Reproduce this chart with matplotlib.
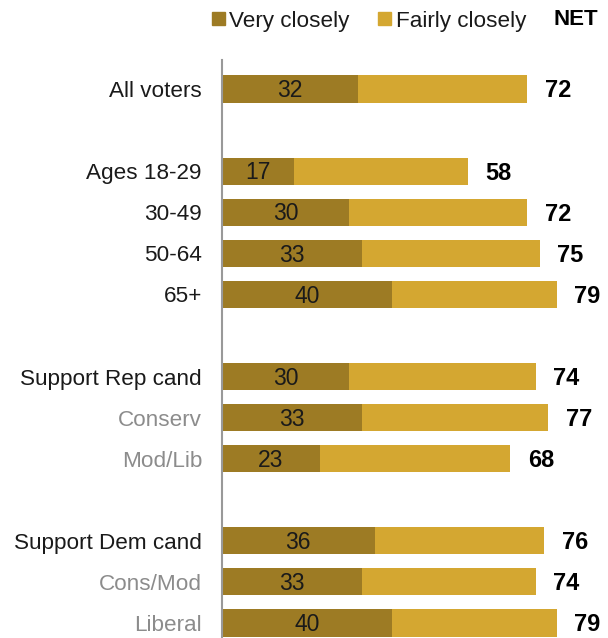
import matplotlib
matplotlib.use("Agg")
import matplotlib.pyplot as plt
from matplotlib.patches import Rectangle
from matplotlib.transforms import offset_copy

categories = ["All voters", "Ages 18-29", "30-49", "50-64", "65+",
              "Support Rep cand", "Conserv", "Mod/Lib",
              "Support Dem cand", "Cons/Mod", "Liberal"]
very_closely = [32, 17, 30, 33, 40, 30, 33, 23, 36, 33, 40]
net = [72, 58, 72, 75, 79, 74, 77, 68, 76, 74, 79]
fairly_closely = [n - v for n, v in zip(net, very_closely)]
sub_group = [False, False, False, False, False, False, True, True, False, True, True]
row_pos = [0, 2, 3, 4, 5, 7, 8, 9, 11, 12, 13]

DARK = "#9D7B24"
LIGHT = "#D4A731"
FONT = "Liberation Sans"
plt.rcParams['font.family'] = [FONT, 'DejaVu Sans']

W, H = 608, 638
DPI = 100
fig = plt.figure(figsize=(W / DPI, H / DPI), dpi=DPI)
ax_left, ax_top, ax_bottom = 222, 60, 638
ax = fig.add_axes([ax_left / W, 0, (W - ax_left) / W, (ax_bottom - ax_top) / H])

px_per_unit = 4.24
row_px = 41.08
ax.set_xlim(0, (W - ax_left) / px_per_unit)
ax.set_ylim(13 + (ax_bottom - 623) / row_px, -(89 - ax_top) / row_px)

bh = 0.66
ax.barh(row_pos, very_closely, height=bh, color=DARK, edgecolor='none')
ax.barh(row_pos, fairly_closely, left=very_closely, height=bh, color=LIGHT, edgecolor='none')

CAP = 0.716


def ctext(x, y, s, size, transform, **kw):
    # place text so that its cap height is centered at y
    off = size * DPI / 72 * CAP / 2
    tr = offset_copy(transform, fig=fig, x=0, y=-off, units='dots')
    return fig.text(x, y, s, fontsize=size, va='baseline', transform=tr, **kw)


LBL = 16.2
NUM = 16.5
NETSZ = 17.0
for y, v, n, cat, sub in zip(row_pos, very_closely, net, categories, sub_group):
    ctext(v / 2, y, str(v), NUM, ax.transData, ha='center', color='#1a1a1a')
    ctext(n + 17.5 / px_per_unit, y, str(n), NETSZ, ax.transData, ha='left',
          fontweight='bold', color='black')
    ctext(-20 / px_per_unit, y, cat, LBL, ax.transData, ha='right',
          color='#8C8C8C' if sub else '#1a1a1a')

for s in ['top', 'right', 'bottom']:
    ax.spines[s].set_visible(False)
ax.spines['left'].set_color('#999999')
ax.spines['left'].set_linewidth(1.5)
ax.set_xticks([])
ax.set_yticks([])
ax.patch.set_alpha(0)


# Legend
def fig_rect(x0, y0, w, h, color):
    fig.patches.append(Rectangle((x0 / W, 1 - (y0 + h) / H), w / W, h / H,
                                 transform=fig.transFigure, color=color, figure=fig))


fig_rect(212, 12, 13, 13, DARK)
ctext(229 / W, 1 - 18.5 / H, "Very closely", LBL, fig.transFigure, ha='left', color='#1a1a1a')
fig_rect(378, 12, 13, 13, LIGHT)
ctext(396 / W, 1 - 18.5 / H, "Fairly closely", LBL, fig.transFigure, ha='left', color='#1a1a1a')
ctext(598 / W, 1 - 17.5 / H, "NET", 16.0, fig.transFigure, ha='right', fontweight='bold', color='black')

fig.savefig("out.png", dpi=DPI)
